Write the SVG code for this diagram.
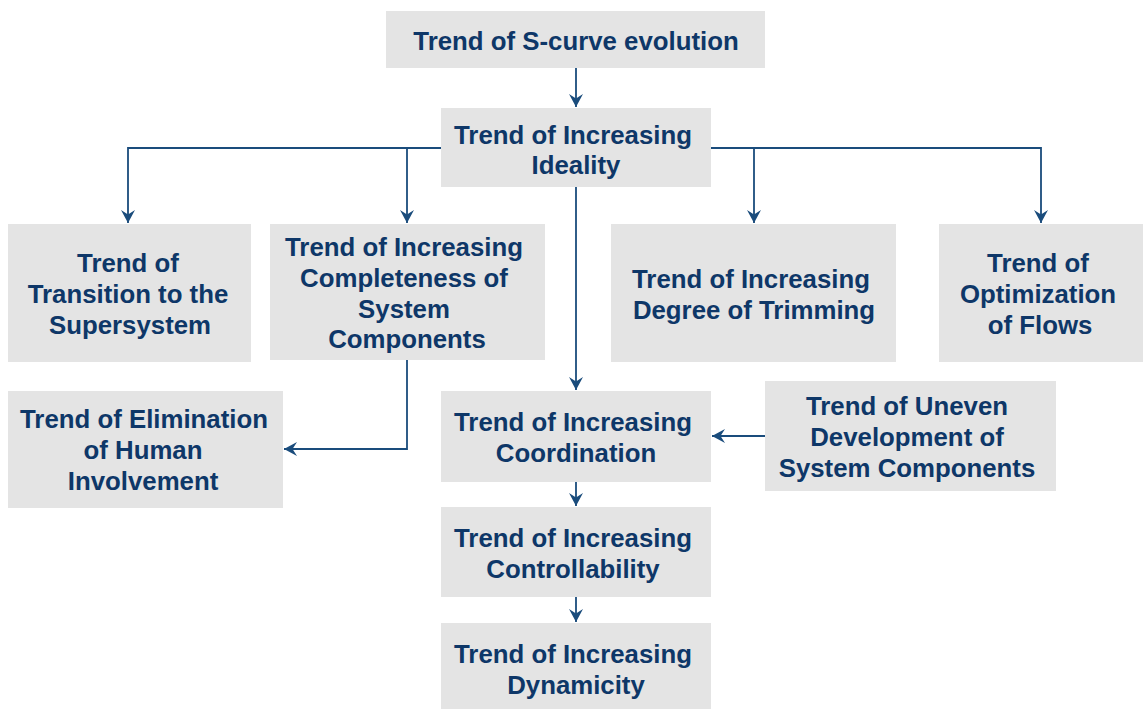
<svg xmlns="http://www.w3.org/2000/svg" width="1143" height="709" viewBox="0 0 1143 709">
<style>
.box{fill:#e4e4e4}
.t{font-family:"Liberation Sans",Arial,sans-serif;font-weight:bold;font-size:25.8px;fill:#0e3768;text-anchor:middle}
.c{fill:none;stroke:#1a4c7c;stroke-width:1.8}
</style>
<defs>
<marker id="ah" markerUnits="userSpaceOnUse" markerWidth="16" markerHeight="16" refX="13" refY="8" orient="auto">
<path d="M0,1 L13,8 L0,15 L4.5,8 z" fill="#1a4c7c"/>
</marker>
</defs>
<rect width="1143" height="709" fill="#ffffff"/>
<g id="connectors">
<path class="c" d="M576,68 V107" marker-end="url(#ah)"/>
<path class="c" d="M441,148 H128 V223" marker-end="url(#ah)"/>
<path class="c" d="M407,148 V223" marker-end="url(#ah)"/>
<path class="c" d="M711,148 H1041 V223" marker-end="url(#ah)"/>
<path class="c" d="M754,148 V223" marker-end="url(#ah)"/>
<path class="c" d="M576,187 V390" marker-end="url(#ah)"/>
<path class="c" d="M407,360 V449 H284" marker-end="url(#ah)"/>
<path class="c" d="M765,436 H712" marker-end="url(#ah)"/>
<path class="c" d="M576,482 V506" marker-end="url(#ah)"/>
<path class="c" d="M576,597 V622" marker-end="url(#ah)"/>
</g>
<g id="n-scurve">
<rect class="box" x="386" y="11" width="379" height="57"/>
<text class="t" x="576" y="50">Trend of S-curve evolution</text>
</g>
<g id="n-ideality">
<rect class="box" x="441" y="108" width="270" height="79"/>
<text class="t" x="573" y="144">Trend of Increasing</text>
<text class="t" x="576" y="174">Ideality</text>
</g>
<g id="n-transition">
<rect class="box" x="8" y="224" width="243" height="138"/>
<text class="t" x="128" y="272">Trend of</text>
<text class="t" x="128" y="303">Transition to the</text>
<text class="t" x="130" y="334">Supersystem</text>
</g>
<g id="n-completeness">
<rect class="box" x="270" y="224" width="275" height="136"/>
<text class="t" x="404" y="256">Trend of Increasing</text>
<text class="t" x="404" y="287">Completeness of</text>
<text class="t" x="404" y="318">System</text>
<text class="t" x="407" y="348">Components</text>
</g>
<g id="n-trimming">
<rect class="box" x="611" y="224" width="285" height="138"/>
<text class="t" x="751" y="288">Trend of Increasing</text>
<text class="t" x="754" y="319">Degree of Trimming</text>
</g>
<g id="n-flows">
<rect class="box" x="939" y="224" width="204" height="138"/>
<text class="t" x="1038" y="272">Trend of</text>
<text class="t" x="1038" y="303">Optimization</text>
<text class="t" x="1040" y="334">of Flows</text>
</g>
<g id="n-elimination">
<rect class="box" x="8" y="391" width="275" height="117"/>
<text class="t" x="144" y="428">Trend of Elimination</text>
<text class="t" x="143" y="459">of Human</text>
<text class="t" x="143" y="490">Involvement</text>
</g>
<g id="n-coordination">
<rect class="box" x="441" y="391" width="270" height="91"/>
<text class="t" x="573" y="431">Trend of Increasing</text>
<text class="t" x="576" y="462">Coordination</text>
</g>
<g id="n-uneven">
<rect class="box" x="765" y="381" width="291" height="110"/>
<text class="t" x="907" y="415">Trend of Uneven</text>
<text class="t" x="907" y="446">Development of</text>
<text class="t" x="907" y="477">System Components</text>
</g>
<g id="n-controllability">
<rect class="box" x="441" y="507" width="270" height="90"/>
<text class="t" x="573" y="547">Trend of Increasing</text>
<text class="t" x="573" y="578">Controllability</text>
</g>
<g id="n-dynamicity">
<rect class="box" x="441" y="623" width="270" height="86"/>
<text class="t" x="573" y="663">Trend of Increasing</text>
<text class="t" x="576" y="694">Dynamicity</text>
</g>
</svg>
